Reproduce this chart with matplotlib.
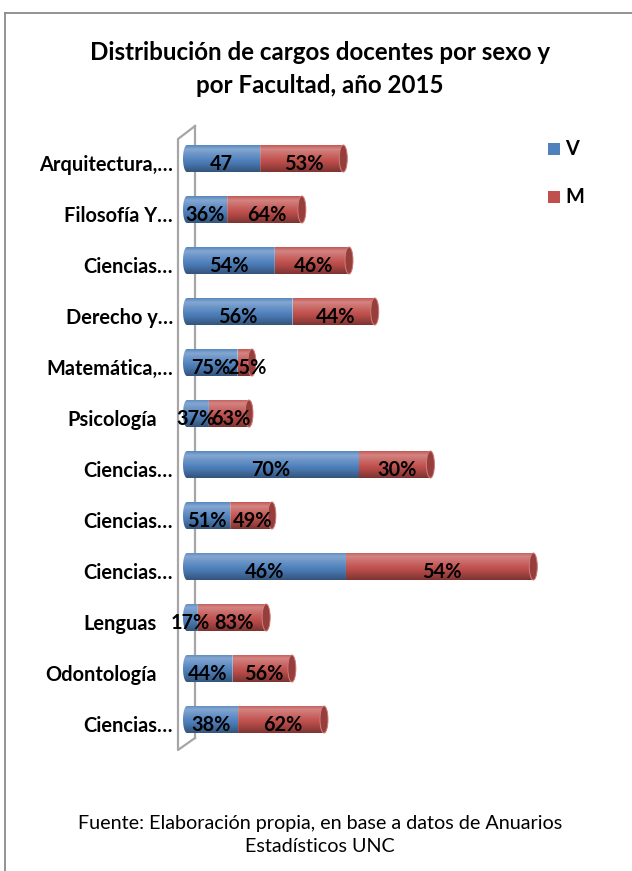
import numpy as np
import matplotlib
matplotlib.use("Agg")
import matplotlib.pyplot as plt
from matplotlib.patches import Polygon, Ellipse, Rectangle
from matplotlib.lines import Line2D
from matplotlib.colors import to_rgb

# ---- data -------------------------------------------------------------
facultades = ["Arquitectura,…", "Filosofía Y…", "Ciencias…", "Derecho y…",
              "Matemática,…", "Psicología", "Ciencias…", "Ciencias…",
              "Ciencias…", "Lenguas", "Odontología", "Ciencias…"]
total_cargos = [1150, 860, 1190, 1370, 510, 490, 1760, 650, 2480, 610, 790, 1015]
pct_v = [47, 36, 54, 56, 75, 37, 70, 51, 46, 17, 44, 38]
pct_m = [53, 64, 46, 44, 25, 63, 30, 49, 54, 83, 56, 62]
series = ["V", "M"]
series_colors = ["#4F81BD", "#C0504D"]

cargos_v = [t * p / 100 for t, p in zip(total_cargos, pct_v)]
cargos_m = [t * p / 100 for t, p in zip(total_cargos, pct_m)]
labels_v = [f"{p}%" for p in pct_v]
labels_v[0] = str(pct_v[0])
labels_m = [f"{p}%" for p in pct_m]

# ---- figure / layout ----------------------------------------------------
W, H, DPI = 632, 871, 100
FONT = "Lato"
fig = plt.figure(figsize=(W / DPI, H / DPI), dpi=DPI)
fig.patch.set_facecolor("white")

def fx(px):
    return px / W

def fy(py):
    return 1 - py / H

XMAX = 2500
ax_left, ax_top, ax_bottom = 183, 133, 745
units_per_px = 7.0
ax_width = XMAX / units_per_px
ax = fig.add_axes([fx(ax_left), fy(ax_bottom), ax_width / W, (ax_bottom - ax_top) / H])
ax.set_xlim(0, XMAX)
ax.set_ylim(len(facultades) - 0.5, -0.5)
ax.set_axis_off()

row_px = (ax_bottom - ax_top) / len(facultades)
bar_h = 27 / row_px          # bar thickness in row units
hh = bar_h / 2
cap_a = 4 * units_per_px     # half-width of the end ellipse in data units


def tint(color, k):
    c = np.array(to_rgb(color))
    if k >= 0:
        return c + (1 - c) * k
    return c * (1 + k)


def cylinder_gradient(color, n=80):
    t = np.linspace(0, 1, n)
    prof = np.interp(t, [0.0, 0.15, 0.35, 0.65, 1.0],
                     [0.05, 0.30, 0.15, -0.05, -0.35])
    rows = np.array([tint(color, k) for k in prof])
    return np.clip(rows, 0, 1)[:, None, :]


def draw_segment(y, x0, x1, color, round_left, cap_right):
    theta = np.linspace(0, np.pi, 40)
    top, bot = y - hh, y + hh
    pts = []
    if round_left:
        pts.append((x1, top))
        pts += [(x0 + cap_a - cap_a * np.sin(th), y - hh * np.cos(th)) for th in theta]
        pts.append((x1, bot))
    elif cap_right:
        pts.append((x0, top))
        pts += [(x1 - cap_a + cap_a * np.sin(th), y - hh * np.cos(th)) for th in theta]
        pts.append((x0, bot))
    else:
        pts = [(x0, top), (x1, top), (x1, bot), (x0, bot)]
    poly = Polygon(pts, closed=True, facecolor="none", edgecolor="none",
                   transform=ax.transData, zorder=2)
    ax.add_patch(poly)
    im = ax.imshow(cylinder_gradient(color), extent=(x0, x1, bot, top),
                   origin="upper", aspect="auto", interpolation="bilinear", zorder=2)
    im.set_clip_path(poly)
    if cap_right:
        ax.add_patch(Ellipse((x1 - cap_a, y), 2 * cap_a, 2 * hh,
                             facecolor=tint(color, -0.22), edgecolor=tint(color, 0.25),
                             lw=0.7, zorder=3))


for i in range(len(facultades)):
    v, m = cargos_v[i], cargos_m[i]
    draw_segment(i, 0, v, series_colors[0], round_left=True, cap_right=False)
    draw_segment(i, v, v + m, series_colors[1], round_left=False, cap_right=True)
    label_kw = dict(textcoords="offset points", ha="center", va="center",
                    fontsize=14.3, fontweight="bold", family=FONT, color="black", zorder=5)
    ax.annotate(labels_v[i], xy=(v / 2, i), xytext=(0, -4), **label_kw)
    ax.annotate(labels_m[i], xy=(v + m / 2, i), xytext=(0, -4), **label_kw)
    # category name, right-aligned left of the bars
    shift_px = -10 if facultades[i].endswith("…") else -26
    ax.annotate(facultades[i], xy=(0, i), xytext=(shift_px * 72 / DPI, -5),
                textcoords="offset points", ha="right", va="center",
                fontsize=14.4, fontweight="bold", family=FONT, color="black",
                annotation_clip=False)

# 3-D back wall outline
wall_color = "#a6a6a6"
wall_x_front, wall_x_back = 178, 195
wall_pts = [(wall_x_back, 126), (wall_x_front, 139), (wall_x_front, 750), (wall_x_back, 738)]
ax.add_line(Line2D([fx(p[0]) for p in wall_pts], [fy(p[1]) for p in wall_pts],
                   transform=fig.transFigure, color=wall_color, lw=1.6,
                   clip_on=False, zorder=1))
ax.add_line(Line2D([fx(wall_x_back)] * 2, [fy(126), fy(738)],
                   transform=fig.transFigure, color=wall_color, lw=1.6,
                   clip_on=False, zorder=1))

# legend
for k, (name, col) in enumerate(zip(series, series_colors)):
    ycen = 149 + 48 * k
    fig.add_artist(Rectangle((fx(548), fy(ycen + 6)), 12 / W, 12 / H,
                             transform=fig.transFigure, facecolor=col, edgecolor="none"))
    fig.text(fx(565), fy(ycen), name, ha="left", va="center", fontsize=14.3,
             fontweight="bold", family=FONT)

# title and source note
fig.text(fx(320), fy(69), "Distribución de cargos docentes por sexo y\npor Facultad, año 2015",
         ha="center", va="center", fontsize=17.4, fontweight="bold", family=FONT,
         linespacing=1.5)
fig.text(fx(320), fy(835), "Fuente: Elaboración propia, en base a datos de Anuarios\nEstadísticos UNC",
         ha="center", va="center", fontsize=14.2, family=FONT, linespacing=1.45)

# chart-area border
border = "#8a8a8a"
fig.add_artist(Line2D([fx(5), fx(640)], [fy(13), fy(13)], transform=fig.transFigure,
                      color=border, lw=1.3))
fig.add_artist(Line2D([fx(5), fx(5)], [fy(13), fy(880)], transform=fig.transFigure,
                      color=border, lw=1.3))

fig.savefig("out.png", dpi=DPI)
